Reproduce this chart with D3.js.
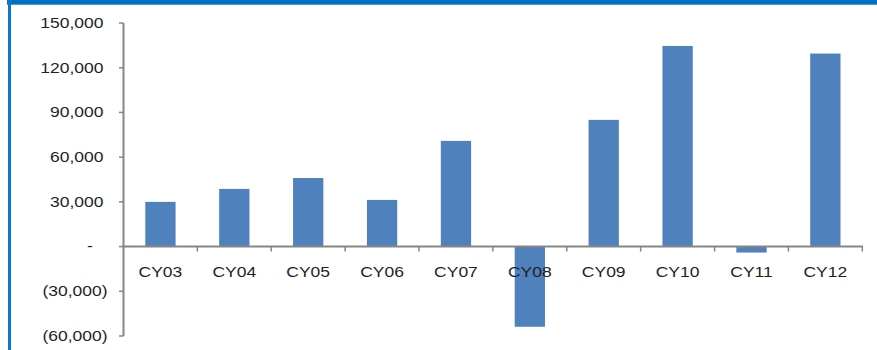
<!DOCTYPE html>
<html>
<head>
<meta charset="utf-8">
<script src="https://cdn.jsdelivr.net/npm/d3@7"></script>
<style>
  html, body { margin: 0; padding: 0; background: #fff; }
  svg { display: block; }
  text { font-family: "Liberation Sans", Arial, sans-serif; font-size: 14px; fill: #1f1f1f; }
</style>
</head>
<body>
<script>
// Annual values by calendar year
const categories = ["CY03", "CY04", "CY05", "CY06", "CY07", "CY08", "CY09", "CY10", "CY11", "CY12"];
const values = [30000, 38700, 46000, 31300, 70900, -53800, 85000, 134600, -4000, 129500];
const yTicks = [-60000, -30000, 0, 30000, 60000, 90000, 120000, 150000];

const W = 877, H = 350;
const svg = d3.select("body").append("svg").attr("width", W).attr("height", H);

// blue frame: band across the top and rule down the left side
svg.append("rect").attr("x", 7).attr("y", 0).attr("width", W - 7).attr("height", 4.7).attr("fill", "#0070C0");
svg.append("rect").attr("x", 8).attr("y", 0).attr("width", 3).attr("height", H).attr("fill", "#0A78C8");

const x = d3.scaleBand().domain(categories).range([123.5, 862.3]).padding(0);
const y = d3.scaleLinear().domain([-60000, 150000]).range([336, 23]);

const barW = x.bandwidth() * 0.41;
const stretch = 1.25;

// bars
svg.append("g").selectAll("rect").data(values).join("rect")
  .attr("x", (d, i) => x(categories[i]) + (x.bandwidth() - barW) / 2)
  .attr("y", d => y(Math.max(0, d)))
  .attr("width", barW)
  .attr("height", d => Math.abs(y(d) - y(0)))
  .attr("fill", "#4F81BD");

const axisColor = "#868686";

// y axis line and ticks
const yAxis = svg.append("g");
yAxis.append("line").attr("x1", 123.5).attr("x2", 123.5).attr("y1", y(150000)).attr("y2", y(-60000))
  .attr("stroke", axisColor).attr("stroke-width", 2);
yAxis.selectAll("line.tick").data(yTicks).join("line").attr("class", "tick")
  .attr("x1", 119).attr("x2", 123.5).attr("y1", d => y(d)).attr("y2", d => y(d))
  .attr("stroke", axisColor).attr("stroke-width", 1.5);

const fmt = d3.format(",");
yAxis.selectAll("text").data(yTicks).join("text")
  .attr("transform", d => {
    const tx = d === 0 ? 90 : (d < 0 ? 107.5 : 103.5);
    return `translate(${tx},${y(d)}) scale(${stretch},1)`;
  })
  .attr("text-anchor", d => d === 0 ? "middle" : "end")
  .attr("dy", "0.35em")
  .text(d => d === 0 ? "-" : (d < 0 ? `(${fmt(-d)})` : fmt(d)));

// x axis along zero line with ticks at band boundaries
const xAxis = svg.append("g");
const y0 = y(0);
xAxis.append("line").attr("x1", 122.5).attr("x2", 863).attr("y1", y0).attr("y2", y0)
  .attr("stroke", axisColor).attr("stroke-width", 2);
const bounds = categories.map(c => x(c) + x.bandwidth());
xAxis.selectAll("line.tick").data(bounds).join("line").attr("class", "tick")
  .attr("x1", d => d).attr("x2", d => d).attr("y1", y0).attr("y2", y0 + 5)
  .attr("stroke", axisColor).attr("stroke-width", 1.5);
xAxis.selectAll("text").data(categories).join("text")
  .attr("transform", c => `translate(${x(c) + x.bandwidth() / 2},276.5) scale(${stretch},1)`)
  .attr("text-anchor", "middle")
  .text(c => c);
</script>
</body>
</html>
